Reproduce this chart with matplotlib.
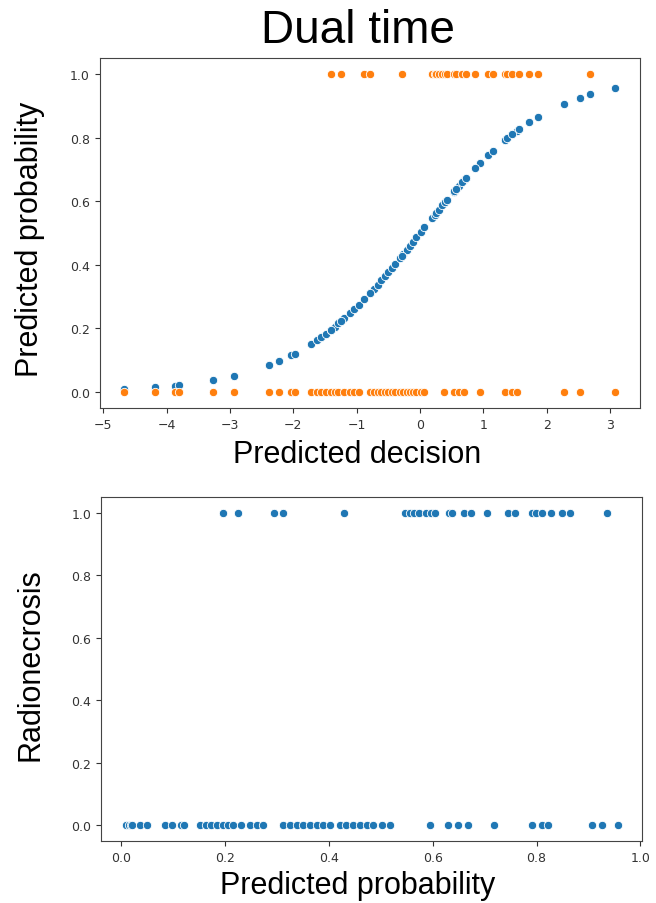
import matplotlib
matplotlib.use("Agg")
import matplotlib.pyplot as plt

# one entry per patient: decision value, predicted probability, true label
decision = [
    -4.67, -4.19, -3.87, -3.80, -3.27, -2.93, -2.38, -2.22, -2.04, -1.98,
    -1.72, -1.63, -1.56, -1.49, -1.41, -1.35, -1.29, -1.20, -1.11, -1.04,
    -0.97, -0.79, -0.73, -0.67, -0.62, -0.56, -0.50, -0.45, -0.40, -0.32,
    -0.27, -0.21, -0.16, -0.11, -0.06, 0.01, 0.07,
    0.38, 0.53, 0.61, 0.70, 0.94, 1.34, 1.45, 1.53, 2.27, 2.53, 3.08,
    -1.41, -1.24, -0.88, -0.79, -0.29, 0.19, 0.23, 0.26, 0.30, 0.35,
    0.39, 0.42, 0.54, 0.57, 0.67, 0.73, 0.87, 1.07, 1.15, 1.34,
    1.38, 1.46, 1.57, 1.72, 1.86, 2.68,
]
probability = [
    0.009, 0.015, 0.020, 0.022, 0.037, 0.051, 0.085, 0.098, 0.115, 0.121,
    0.152, 0.164, 0.174, 0.184, 0.196, 0.206, 0.216, 0.232, 0.248, 0.261,
    0.274, 0.312, 0.325, 0.338, 0.351, 0.364, 0.377, 0.389, 0.402, 0.422,
    0.434, 0.447, 0.460, 0.473, 0.486, 0.502, 0.518,
    0.594, 0.629, 0.648, 0.668, 0.719, 0.792, 0.810, 0.822, 0.906, 0.926, 0.956,
    0.196, 0.225, 0.294, 0.312, 0.429, 0.547, 0.556, 0.564, 0.574, 0.587,
    0.597, 0.604, 0.632, 0.638, 0.661, 0.674, 0.705, 0.745, 0.759, 0.792,
    0.799, 0.811, 0.827, 0.848, 0.865, 0.936,
]
label = [0] * 48 + [1] * 26

title = "Dual time"
top_xlabel = "Predicted decision"
top_ylabel = "Predicted probability"
bottom_xlabel = "Predicted probability"
bottom_ylabel = "Radionecrosis"

blue = "#1f77b4"
orange = "#ff7f0e"
big_font = "Liberation Sans"

fig = plt.figure(figsize=(6.56, 9.04), dpi=100)

ax1 = fig.add_axes([0.152, 0.5476, 0.823, 0.387])
ax1.scatter(decision, probability, s=36, color=blue, edgecolors="white", linewidths=0.6, zorder=2)
ax1.scatter(decision, label, s=36, color=orange, edgecolors="white", linewidths=0.6, zorder=3)

ax2 = fig.add_axes([0.154, 0.0686, 0.825, 0.3805])
ax2.scatter(probability, label, s=36, color=blue, edgecolors="white", linewidths=0.6)

for ax in (ax1, ax2):
    ax.tick_params(labelsize=9, colors="#333333")
    for sp in ax.spines.values():
        sp.set_color("#444444")

fig.text(0.545, 0.966, title, ha="center", va="center", fontsize=33, family=big_font)
fig.text(0.545, 0.497, top_xlabel, ha="center", va="center", fontsize=22, family=big_font)
fig.text(0.046, 0.735, top_ylabel, ha="center", va="center", rotation=90, fontsize=22, family=big_font)
fig.text(0.545, 0.020, bottom_xlabel, ha="center", va="center", fontsize=22, family=big_font)
fig.text(0.046, 0.265, bottom_ylabel, ha="center", va="center", rotation=90, fontsize=22, family=big_font)

plt.savefig("out.png", dpi=100)
